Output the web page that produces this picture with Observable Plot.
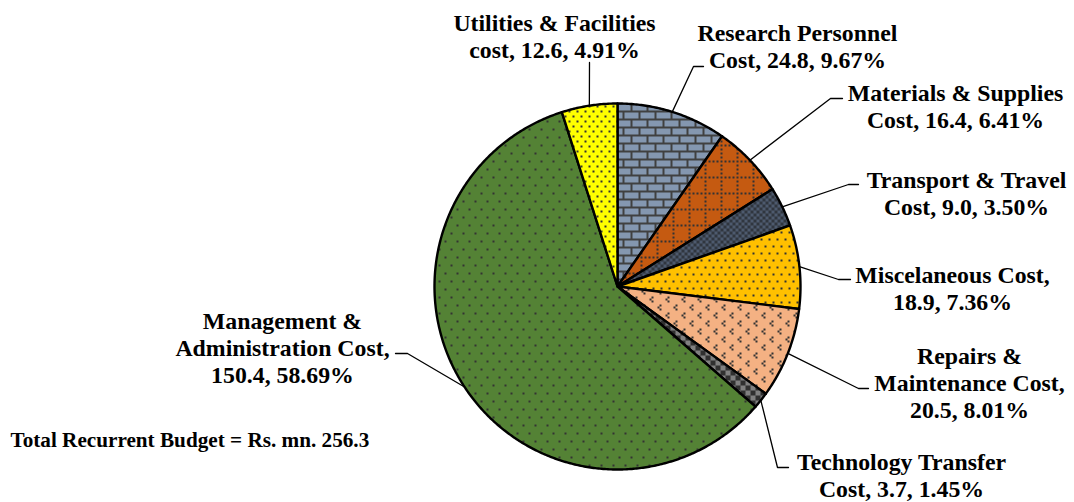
<!DOCTYPE html>
<html><head><meta charset="utf-8">
<script src="https://cdn.jsdelivr.net/npm/d3@7"></script>
<script src="https://cdn.jsdelivr.net/npm/@observablehq/plot@0.6"></script>
<style>html,body{margin:0;padding:0;background:#fff;}</style>
</head><body><div id="chart"></div>
<script>
// ---- data ----
const categories = ["Research Personnel Cost", "Materials & Supplies Cost", "Transport & Travel Cost", "Miscelaneous Cost", "Repairs & Maintenance Cost", "Technology Transfer Cost", "Management & Administration Cost", "Utilities & Facilities cost"];
const values = [24.8, 16.4, 9.0, 18.9, 20.5, 3.7, 150.4, 12.6];
const percents = ["9.67%", "6.41%", "3.50%", "7.36%", "8.01%", "1.45%", "58.69%", "4.91%"];
const totalText = "Total Recurrent Budget = Rs. mn. 256.3";

// ---- layout (positions / styles) ----
const cx = 617, cy = 286, R = 183;
const FS = 23.8, LH = 1.14, FS_TOTAL = 21.2;
const patternIds = ["p-brick", "p-grid", "p-check", "p-misc", "p-chev", "p-bigcheck", "p-mgmt", "p-util"];
const labelLayout = [
  {x: 797, base: 38, breaks: [2, 3], elbow: [693, 66], end: [703, 66]},
  {x: 955, base: 98, breaks: [3, 3], elbow: [830, 98], end: [842, 98]},
  {x: 966, base: 185, breaks: [3, 3], elbow: [848, 184], end: [858, 184]},
  {x: 952, base: 280, breaks: [2, 2], elbow: [838, 279], end: [850, 279]},
  {x: 969, base: 361, breaks: [2, 2, 2], elbow: [858, 388], end: [868, 388]},
  {x: 901, base: 467, breaks: [2, 3], elbow: [777, 467], end: [788, 467]},
  {x: 282, base: 326, breaks: [2, 2, 2], elbow: [407, 353], end: [395, 353]},
  {x: 554, base: 28, breaks: [3, 3], elbow: null, end: [589, 62]}
];

const patterns = `
<pattern id="p-brick" width="16" height="16" patternUnits="userSpaceOnUse">
 <rect width="16" height="16" fill="#404040"/>
 <rect x="0" y="0" width="14" height="6" fill="#8497B0"/>
 <rect x="-8" y="8" width="14" height="6" fill="#8497B0"/>
 <rect x="8" y="8" width="14" height="6" fill="#8497B0"/>
</pattern>
<pattern id="p-grid" width="16" height="16" patternUnits="userSpaceOnUse">
 <rect width="16" height="16" fill="#C55A11"/>
 <rect x="0" y="0" width="2" height="2" fill="#333"/><rect x="4" y="0" width="2" height="2" fill="#333"/>
 <rect x="8" y="0" width="2" height="2" fill="#333"/><rect x="12" y="0" width="2" height="2" fill="#333"/>
 <rect x="0" y="4" width="2" height="2" fill="#333"/><rect x="0" y="8" width="2" height="2" fill="#333"/>
 <rect x="0" y="12" width="2" height="2" fill="#333"/>
</pattern>
<pattern id="p-check" width="6" height="6" patternUnits="userSpaceOnUse">
 <rect width="6" height="6" fill="#4D5A6E"/>
 <rect x="0" y="0" width="3" height="3" fill="#30363F"/><rect x="3" y="3" width="3" height="3" fill="#30363F"/>
</pattern>
<pattern id="p-misc" width="8" height="14" patternUnits="userSpaceOnUse">
 <rect width="8" height="14" fill="#FFC000"/>
 <rect x="0" y="0" width="2" height="2" fill="#333"/><rect x="4" y="7" width="2" height="2" fill="#333"/>
</pattern>
<pattern id="p-chev" width="16" height="16" patternUnits="userSpaceOnUse">
 <rect width="16" height="16" fill="#F4B183"/>
 <rect x="3" y="0" width="2" height="2" fill="#333"/><rect x="1" y="2" width="2" height="2" fill="#333"/><rect x="3" y="4" width="2" height="2" fill="#333"/>
 <rect x="11" y="8" width="2" height="2" fill="#333"/><rect x="9" y="10" width="2" height="2" fill="#333"/><rect x="11" y="12" width="2" height="2" fill="#333"/>
</pattern>
<pattern id="p-bigcheck" width="10" height="10" patternUnits="userSpaceOnUse">
 <rect width="10" height="10" fill="#808080"/>
 <rect x="0" y="0" width="5" height="5" fill="#303030"/><rect x="5" y="5" width="5" height="5" fill="#303030"/>
</pattern>
<pattern id="p-mgmt" width="12" height="16" patternUnits="userSpaceOnUse">
 <rect width="12" height="16" fill="#548235"/>
 <rect x="0" y="0" width="2" height="2" fill="#333"/><rect x="6" y="8" width="2" height="2" fill="#333"/>
</pattern>
<pattern id="p-util" width="8" height="10" patternUnits="userSpaceOnUse">
 <rect width="8" height="10" fill="#FFFF00"/>
 <rect x="0" y="0" width="2" height="2" fill="#333"/><rect x="4" y="5" width="2" height="2" fill="#333"/>
</pattern>`;

// ---- build ----
const arcs = d3.pie().sort(null).value(d => d)(values);
const polar = (a, r) => [cx + r * Math.sin(a), cy - r * Math.cos(a)];
function slicePoints(a) {
  const pts = [[cx, cy]];
  const n = Math.max(4, Math.ceil((a.endAngle - a.startAngle) / (Math.PI / 360)));
  for (let k = 0; k <= n; k++) pts.push(polar(a.startAngle + (a.endAngle - a.startAngle) * k / n, R));
  pts.push([cx, cy]);
  return pts;
}
function wrap(str, breaks) {
  const words = str.split(" ");
  const lines = []; let p = 0;
  for (const b of breaks) { lines.push(words.slice(p, p + b).join(" ")); p += b; }
  return lines.join("\n");
}

const marks = [];
arcs.forEach((a, i) => {
  marks.push(Plot.line(slicePoints(a), {x: d => d[0], y: d => d[1], fill: `url(#${patternIds[i]})`, stroke: "#000", strokeWidth: 2.4, strokeLinejoin: "round"}));
});
labelLayout.forEach((L, i) => {
  const m = (arcs[i].startAngle + arcs[i].endAngle) / 2;
  const pts = [polar(m, R), ...(L.elbow ? [L.elbow] : []), L.end];
  marks.push(Plot.line(pts, {x: d => d[0], y: d => d[1], stroke: "#000", strokeWidth: 1.3}));
});
const labels = categories.map((c, i) => ({
  x: labelLayout[i].x,
  y: labelLayout[i].base - 0.71 * FS,
  text: wrap(`${c}, ${values[i].toFixed(1)}, ${percents[i]}`, labelLayout[i].breaks)
}));
marks.push(Plot.text(labels, {x: "x", y: "y", text: "text", fontFamily: "'Liberation Serif', 'Times New Roman', serif", fontWeight: "bold", fontSize: FS, lineHeight: LH, lineAnchor: "top", textAnchor: "middle", fill: "#000"}));
marks.push(Plot.text([{x: 10, y: 446 - 0.71 * FS_TOTAL, text: totalText}], {x: "x", y: "y", text: "text", fontFamily: "'Liberation Serif', 'Times New Roman', serif", fontWeight: "bold", fontSize: FS_TOTAL, lineAnchor: "top", textAnchor: "start", fill: "#000"}));

const svg = Plot.plot({
  width: 1074, height: 502,
  marginTop: 0, marginRight: 0, marginBottom: 0, marginLeft: 0,
  x: {domain: [0, 1074], range: [0, 1074], axis: null},
  y: {domain: [0, 502], range: [0, 502], axis: null},
  style: {background: "#fff", overflow: "visible"},
  marks
});
d3.select(svg).insert("defs", ":first-child").html(patterns);
document.getElementById("chart").appendChild(svg);
</script>
</body></html>
